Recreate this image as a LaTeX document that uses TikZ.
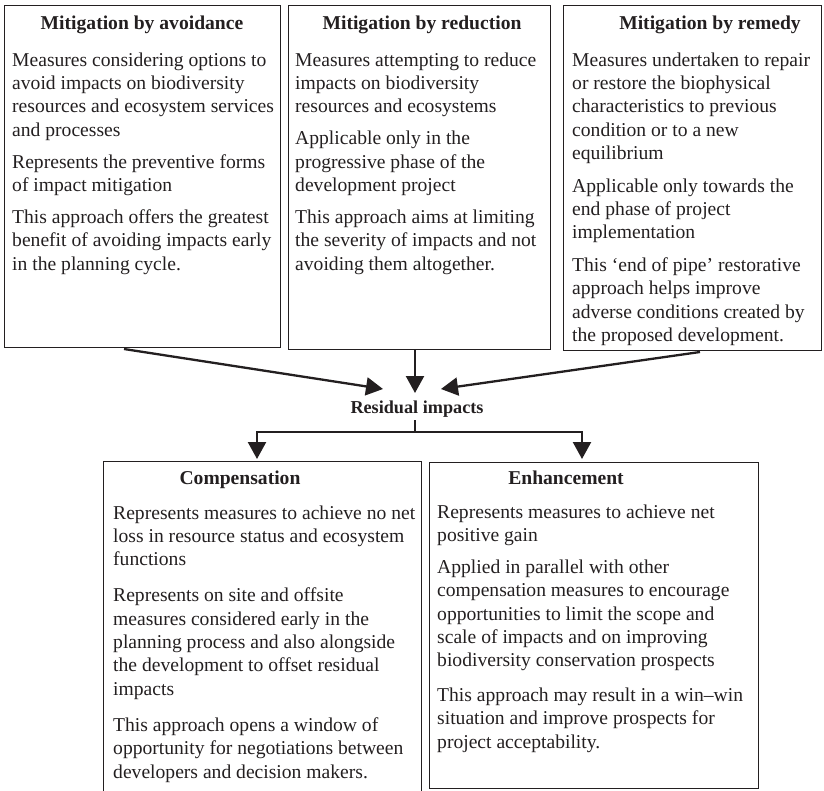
\documentclass[tikz,border=0pt]{standalone}
\usepackage{fontspec}
\setmainfont{Liberation Serif}
\usetikzlibrary{arrows.meta}
\definecolor{ink}{RGB}{35,31,32}
\begin{document}
\begin{tikzpicture}[x=1pt,y=-1pt,
  panel/.style={draw=ink, line width=1.1pt, inner sep=0pt, anchor=north west},
  head/.style={font=\fontsize{19.6}{23.4}\selectfont\bfseries, text=ink, inner sep=0pt, anchor=base},
  % multi-line bodies are anchored on the baseline of their last line
  body/.style={font=\fontsize{19.6}{23.4}\selectfont, text=ink, inner sep=0pt, anchor=base west, align=left},
  flow/.style={draw=ink, line width=2.3pt, -{Triangle[length=17pt,width=18pt]}},
  link/.style={draw=ink, line width=2.3pt}]
\clip (0,0) rectangle (824,790);
\useasboundingbox (0,0) rectangle (824,790);

% three mitigation panels
\node[panel, minimum width=276pt, minimum height=342pt] (avoid) at (4,5) {};
\node[panel, minimum width=262pt, minimum height=344pt] (reduce) at (288,5) {};
\node[panel, minimum width=258pt, minimum height=345pt] (remedy) at (563,5) {};

\node[head] (havoid) at (142,29) {Mitigation by avoidance};
\node[body] (tavoid) at (12,270.2) {Measures considering options to\\
avoid impacts on biodiversity\\
resources and ecosystem services\\
and processes\\[8.5pt]
Represents the preventive forms\\
of impact mitigation\\[8.5pt]
This approach offers the greatest\\
benefit of avoiding impacts early\\
in the planning cycle.};

\node[head] (hreduce) at (422,29) {Mitigation by reduction};
\node[body] (treduce) at (295,270.2) {Measures attempting to reduce\\
impacts on biodiversity\\
resources and ecosystems\\[8.5pt]
Applicable only in the\\
progressive phase of the\\
development project\\[8.5pt]
This approach aims at limiting\\
the severity of impacts and not\\
avoiding them altogether.};

\node[head] (hremedy) at (710,29) {Mitigation by remedy};
\node[body] (tremedy) at (572,341.4) {Measures undertaken to repair\\
or restore the biophysical\\
characteristics to previous\\
condition or to a new\\
equilibrium\\[9pt]
Applicable only towards the\\
end phase of project\\
implementation\\[9pt]
This ‘end of pipe’ restorative\\
approach helps improve\\
adverse conditions created by\\
the proposed development.};

% convergence on residual impacts
\node[head, font=\fontsize{18.2}{22}\selectfont\bfseries] (resid) at (417,413) {Residual impacts};
\coordinate (s1) at (124,349);
\coordinate (s2) at (415,349);
\coordinate (s3) at (700,352);
\coordinate (e1) at (383,389);
\coordinate (e2) at (415,393);
\coordinate (e3) at (441,389);
\draw[flow] (s1) -- (e1);
\draw[flow] (s2) -- (e2);
\draw[flow] (s3) -- (e3);

% two follow-up panels
\node[panel, minimum width=318pt, minimum height=340pt] (comp) at (103,461) {};
\node[panel, minimum width=329pt, minimum height=326pt] (enh) at (429,462) {};

\coordinate (stem) at (415,420);
\coordinate (fork) at (415,432);
\coordinate (tl) at (257,459);
\coordinate (tr) at (582,459);
\draw[link] (stem) -- (fork);
\draw[flow] (fork) -| (tl);
\draw[flow] (fork) -| (tr);

\node[head] (hcomp) at (240,484) {Compensation};
\node[body] (tcomp) at (113,778) {Represents measures to achieve no net\\
loss in resource status and ecosystem\\
functions\\[12.5pt]
Represents on site and offsite\\
measures considered early in the\\
planning process and also alongside\\
the development to offset residual\\
impacts\\[12.5pt]
This approach opens a window of\\
opportunity for negotiations between\\
developers and decision makers.};

\node[head] (henh) at (566,484) {Enhancement};
\node[body] (tenh) at (437,748.1) {Represents measures to achieve net\\
positive gain\\[8.5pt]
Applied in parallel with other\\
compensation measures to encourage\\
opportunities to limit the scope and\\
scale of impacts and on improving\\
biodiversity conservation prospects\\[11pt]
This approach may result in a win–win\\
situation and improve prospects for\\
project acceptability.};
\end{tikzpicture}
\end{document}
